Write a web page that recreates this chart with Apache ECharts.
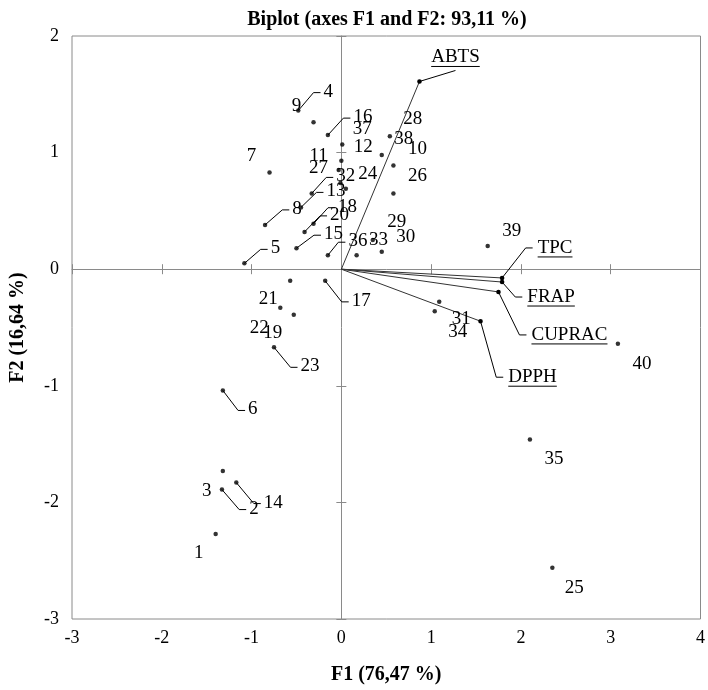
<!DOCTYPE html>
<html>
<head>
<meta charset="utf-8">
<script src="https://cdn.jsdelivr.net/npm/echarts@6/dist/echarts.min.js"></script>
<style>
html, body { margin: 0; padding: 0; background: #fff; }
#chart { width: 708px; height: 690px; }
</style>
</head>
<body>
<div id="chart"></div>
<script>
// observations (F1, F2 scores)
const obsNames = ['1','2','3','4','5','6','7','8','9','10','11','12','13','14','15','16','17','18','19','20',
  '21','22','23','24','25','26','27','28','29','30','31','32','33','34','35','36','37','38','39','40']
const obsF1 = [-1.40, -1.33, -1.32, -0.48, -1.08, -1.32, -0.80, -0.85, -0.31, 0.58,
  -0.03, 0.00, -0.45, -1.17, -0.50, -0.15, -0.18, -0.31, -0.53, -0.41,
  -0.57, -0.68, -0.75, 0.05, 2.35, 0.58, -0.01, 0.54, 0.35, 0.45,
  1.09, -0.33, 0.17, 1.04, 2.10, -0.15, 0.01, 0.45, 1.63, 3.08]
const obsF2 = [-2.27, -1.89, -1.73, 1.36, 0.05, -1.04, 0.83, 0.38, 1.26, 0.89,
  0.85, 0.93, 0.53, -1.83, 0.18, 1.15, -0.10, 0.39, -0.39, 0.32,
  -0.10, -0.33, -0.67, 0.69, -2.56, 0.65, 0.74, 1.14, 0.25, 0.15,
  -0.28, 0.65, 0.12, -0.36, -1.46, 0.12, 1.07, 0.98, 0.20, -0.64]

// variables (loadings)
const varNames = ['ABTS', 'TPC', 'FRAP', 'CUPRAC', 'DPPH']
const varF1 = [0.87, 1.79, 1.79, 1.75, 1.55]
const varF2 = [1.61, -0.075, -0.11, -0.195, -0.446]

const xTicks = [-3, -2, -1, 0, 1, 2, 3, 4]
const yTicks = [-3, -2, -1, 0, 1, 2]

// label placement (pixels from the point)
const labelOffset = {
  '1': [-17, 19], '2': [32, 19], '3': [-16, 20], '4': [30, -19], '5': [31, -15],
  '6': [30, 19], '7': [-18, -16], '8': [32, -16], '9': [-17, -16], '10': [24, -16],
  '11': [-20, -14], '12': [22, -14], '13': [35, -16], '14': [37, 20], '15': [37, -14],
  '16': [35, -18], '17': [36, 20], '18': [34, -17], '19': [-21, 18], '20': [35, -17],
  '21': [-22, 18], '22': [-21, 20], '23': [36, 19], '24': [22, -15], '25': [22, 20],
  '26': [24, -17], '27': [-22, -15], '28': [23, -17], '29': [24, -18], '30': [24, -15],
  '31': [22, 17], '32': [34, -17], '33': [22, -15], '34': [23, 21], '35': [24, 20],
  '36': [30, -14], '37': [20, -15], '38': [22, -16], '39': [24, -15], '40': [24, 20]
}
const leaderSet = new Set(['2', '4', '5', '6', '8', '13', '14', '15', '16', '17', '18', '20', '23', '32', '36'])
const varOffset = { ABTS: [36, -24], TPC: [53, -30], FRAP: [49, 15], CUPRAC: [71, 43], DPPH: [52, 56] }

const FONT = '"Liberation Serif", "Times New Roman", serif'
const LABEL_FONT = '19px ' + FONT
const AXIS_COLOR = '#8a8a8a'

const measureCtx = document.createElement('canvas').getContext('2d')
const textWidth = (t, font) => {
  measureCtx.font = font
  return measureCtx.measureText(t).width
}

const chart = echarts.init(document.getElementById('chart'))

const baseAxis = {
  type: 'value',
  interval: 1,
  splitLine: { show: false }
}

const option = {
  backgroundColor: '#fff',
  animation: false,
  title: {
    text: 'Biplot (axes F1 and F2: 93,11 %)',
    left: 382,
    top: 5,
    textAlign: 'center',
    textStyle: { fontFamily: FONT, fontSize: 20, fontWeight: 'bold', color: '#000' }
  },
  grid: {
    left: 68, right: 6, top: 36, bottom: 69,
    show: true, borderColor: AXIS_COLOR, borderWidth: 1
  },
  xAxis: [
    {
      ...baseAxis, min: -3, max: 4, position: 'bottom',
      name: 'F1 (76,47 %)', nameLocation: 'middle', nameGap: 46,
      nameTextStyle: { fontFamily: FONT, fontSize: 20, fontWeight: 'bold', color: '#000' },
      axisLine: { show: false, onZero: false },
      axisTick: { show: false },
      axisLabel: { fontFamily: FONT, fontSize: 18, color: '#000', margin: 10,
        customValues: xTicks }
    },
    {
      ...baseAxis, min: -3, max: 4,
      axisLine: { show: true, onZero: true, lineStyle: { color: AXIS_COLOR } },
      axisTick: { show: true, length: 5, lineStyle: { color: AXIS_COLOR } },
      axisLabel: { show: false }
    },
    {
      ...baseAxis, min: -3, max: 4,
      axisLine: { show: false, onZero: true },
      axisTick: { show: true, inside: true, length: 5, lineStyle: { color: AXIS_COLOR } },
      axisLabel: { show: false }
    }
  ],
  yAxis: [
    {
      ...baseAxis, min: -3, max: 2, position: 'left',
      name: 'F2 (16,64 %)', nameLocation: 'middle', nameGap: 44,
      nameTextStyle: { fontFamily: FONT, fontSize: 20, fontWeight: 'bold', color: '#000' },
      axisLine: { show: false, onZero: false },
      axisTick: { show: false },
      axisLabel: { fontFamily: FONT, fontSize: 18, color: '#000', margin: 13,
        customValues: yTicks }
    },
    {
      ...baseAxis, min: -3, max: 2,
      axisLine: { show: true, onZero: true, lineStyle: { color: AXIS_COLOR } },
      axisTick: { show: true, length: 5, lineStyle: { color: AXIS_COLOR } },
      axisLabel: { show: false }
    },
    {
      ...baseAxis, min: -3, max: 2,
      axisLine: { show: false, onZero: true },
      axisTick: { show: true, inside: true, length: 5, lineStyle: { color: AXIS_COLOR } },
      axisLabel: { show: false }
    }
  ],
  series: [
    {
      // variable vectors, tips, leaders and underlined names
      type: 'custom',
      xAxisIndex: 0, yAxisIndex: 0,
      z: 3,
      data: varNames.map((n, i) => [varF1[i], varF2[i]]),
      renderItem: (params, api) => {
        const name = varNames[params.dataIndex]
        const o = api.coord([0, 0])
        const p = api.coord([api.value(0), api.value(1)])
        const off = varOffset[name]
        const cx = p[0] + off[0]
        const cy = p[1] + off[1]
        const w = textWidth(name, LABEL_FONT)
        const left = cx - w / 2
        const leader = name === 'ABTS'
          ? [p, [cx, cy + 13]]
          : [p, [left - 12, cy], [left - 5, cy]]
        return {
          type: 'group',
          children: [
            { type: 'line', shape: { x1: o[0], y1: o[1], x2: p[0], y2: p[1] },
              style: { stroke: '#333', lineWidth: 1 } },
            { type: 'polyline', shape: { points: leader },
              style: { stroke: '#000', lineWidth: 1, fill: null } },
            { type: 'circle', shape: { cx: p[0], cy: p[1], r: 2.3 }, style: { fill: '#000' } },
            { type: 'text', style: { text: name, x: cx, y: cy, align: 'center', verticalAlign: 'middle',
              font: LABEL_FONT, fill: '#000' } },
            { type: 'line', shape: { x1: left, y1: cy + 9, x2: left + w, y2: cy + 9 },
              style: { stroke: '#000', lineWidth: 1 } }
          ]
        }
      }
    },
    {
      // observation dots
      type: 'scatter',
      xAxisIndex: 0, yAxisIndex: 0,
      z: 4,
      symbol: 'circle',
      symbolSize: 4.5,
      itemStyle: { color: '#000' },
      data: obsNames.map((n, i) => [obsF1[i], obsF2[i]])
    },
    {
      // observation labels and leader lines
      type: 'custom',
      xAxisIndex: 0, yAxisIndex: 0,
      z: 5,
      data: obsNames.map((n, i) => [obsF1[i], obsF2[i]]),
      renderItem: (params, api) => {
        const name = obsNames[params.dataIndex]
        const p = api.coord([api.value(0), api.value(1)])
        const off = labelOffset[name]
        const cx = p[0] + off[0]
        const cy = p[1] + off[1]
        const children = [
          { type: 'text', style: { text: name, x: cx, y: cy, align: 'center', verticalAlign: 'middle',
            font: LABEL_FONT, fill: '#000' } }
        ]
        if (leaderSet.has(name)) {
          const left = cx - textWidth(name, LABEL_FONT) / 2
          children.push({ type: 'polyline', shape: { points: [p, [left - 10, cy + 1], [left - 3, cy + 1]] },
            style: { stroke: '#000', lineWidth: 1, fill: null } })
        }
        return { type: 'group', children }
      }
    }
  ]
}

chart.setOption(option)
</script>
</body>
</html>
